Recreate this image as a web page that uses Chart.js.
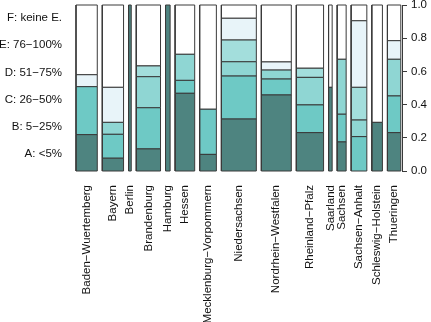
<!DOCTYPE html>
<html><head><meta charset="utf-8">
<script src="https://cdn.jsdelivr.net/npm/chart.js@4"></script>
<style>html,body{margin:0;padding:0;background:#fff}#wrap{width:431px;height:322px}</style>
</head><body><div id="wrap"><canvas id="c" width="431" height="322"></canvas></div>
<script>
// ---- data ----
const states = ["Baden−Wuertemberg","Bayern","Berlin","Brandenburg","Hamburg","Hessen","Mecklenburg−Vorpommern","Niedersachsen","Nordrhein−Westfalen","Rheinland−Pfalz","Saarland","Sachsen","Sachsen−Anhalt","Schleswig−Holstein","Thueringen"];
// relative size of each state (bar width)
const stateSizes = [21.3, 21.3, 2.7, 24.3, 4.6, 19.6, 16.7, 35, 30, 27.3, 3.6, 9, 15.7, 10.6, 13.4];
const categories = ["A: <5%","B: 5−25%","C: 26−50%","D: 51−75%","E: 76−100%","F: keine E."];
const catA = [0.219, 0.077, 1, 0.133, 1, 0.468, 0.100, 0.313, 0.458, 0.231, 0.504, 0.175, 0, 0.293, 0.231];
const catB = [0.289, 0.144, 0, 0.248, 0, 0.078, 0.272, 0.259, 0.096, 0.167, 0, 0.167, 0.207, 0, 0.221];
const catC = [0, 0.072, 0, 0.187, 0, 0.157, 0, 0.086, 0.054, 0.166, 0, 0.331, 0.100, 0, 0.221];
const catD = [0, 0, 0, 0.065, 0, 0, 0, 0.131, 0, 0.055, 0, 0, 0.197, 0, 0];
const catE = [0.072, 0.211, 0, 0, 0, 0, 0, 0.131, 0.049, 0, 0, 0, 0.401, 0, 0.112];
const catF = [0.420, 0.496, 0, 0.367, 0, 0.297, 0.628, 0.080, 0.343, 0.381, 0.496, 0.327, 0.095, 0.707, 0.215];
const yTickValues = [0, 0.2, 0.4, 0.6, 0.8, 1.0];

// ---- style ----
const catSeries = [catA, catB, catC, catD, catE, catF];
const catColors = ["#4e8480", "#6ec9c5", "#8fd6d3", "#a3dedc", "#e8f4f9", "#ffffff"];
const borderCol = "#3a3a3a";
const gapSize = 5;
const FONT = {family: "'Liberation Sans', Arial, Helvetica, sans-serif", size: 11.5};

const datasets = [];
const centers = [];
let cx = 0;
states.forEach((s, i) => {
  const x0 = cx, x1 = cx + stateSizes[i];
  centers.push((x0 + x1) / 2);
  let cy = 0;
  catSeries.forEach((arr, j) => {
    const v = arr[i];
    if (v > 0) {
      const y0 = cy, y1 = cy + v;
      datasets.push({
        label: s + " " + categories[j],
        data: [{x:x0,y:y0},{x:x1,y:y0},{x:x1,y:y1},{x:x0,y:y1},{x:x0,y:y0}],
        showLine: true, fill: 'shape', tension: 0,
        backgroundColor: catColors[j], borderColor: borderCol, borderWidth: 1,
        pointRadius: 0, pointHoverRadius: 0, clip: false,
        xAxisID: 'x', yAxisID: 'y'
      });
      cy = y1;
    }
  });
  cx = x1 + gapSize;
});
const xMax = cx - gapSize + 1.2;
const catPos = categories.map((c, i) => 0.102 + i * 0.164);

new Chart(document.getElementById('c'), {
  type: 'scatter',
  data: {datasets},
  options: {
    responsive: false, animation: false,
    layout: {padding: {top: 5, left: 0, right: 0, bottom: 0}},
    plugins: {legend: {display: false}, tooltip: {enabled: false}},
    scales: {
      x: {
        type: 'linear', position: 'bottom', min: 0, max: xMax, offset: false,
        grid: {display: false, drawTicks: false}, border: {display: false},
        afterBuildTicks: sc => { sc.ticks = centers.map(v => ({value: v})); },
        afterFit: sc => { sc.height = 151; sc.paddingLeft = 0; sc.paddingRight = 0; },
        ticks: {autoSkip: false, minRotation: 90, maxRotation: 90, padding: 14, color: '#111', font: FONT,
          callback: (v, i) => states[i]}
      },
      y: {
        type: 'linear', position: 'right', min: 0, max: 1,
        grid: {drawOnChartArea: false, drawTicks: true, tickLength: 5, color: borderCol},
        border: {display: true, color: borderCol, width: 1},
        afterBuildTicks: sc => { sc.ticks = yTickValues.map(v => ({value: v})); },
        afterFit: sc => { sc.width = 29; sc.paddingTop = 0; sc.paddingBottom = 0; },
        ticks: {padding: 4, color: '#111', font: FONT, callback: v => Number(v).toFixed(1)}
      },
      yl: {
        type: 'linear', position: 'left', min: 0, max: 1,
        grid: {display: false, drawTicks: false}, border: {display: false},
        afterBuildTicks: sc => { sc.ticks = catPos.map(v => ({value: v})); },
        afterFit: sc => { sc.width = 76; sc.paddingTop = 0; sc.paddingBottom = 0; },
        ticks: {padding: 14, color: '#111', font: FONT, callback: (v, i) => categories[i]}
      }
    }
  }
});
</script>
</body></html>
